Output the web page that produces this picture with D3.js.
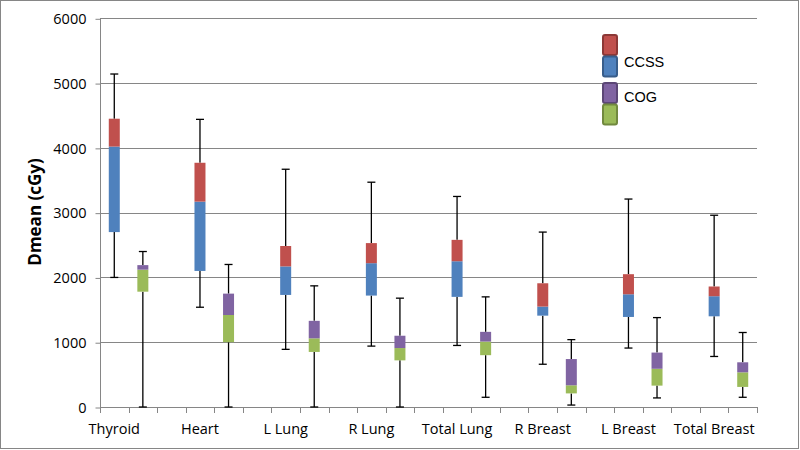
<!DOCTYPE html>
<html><head><meta charset="utf-8">
<script src="https://cdn.jsdelivr.net/npm/d3@7"></script>
<style>body{margin:0;background:#fff}svg{display:block}</style>
</head><body><svg id="c" width="800" height="450"></svg>
<script>
const organs = ["Thyroid","Heart","L Lung","R Lung","Total Lung","R Breast","L Breast","Total Breast"];
const yTicks = [0,1000,2000,3000,4000,5000,6000];
// CCSS
const ccssMin = [2000,1540,890,940,950,660,910,780];
const ccssQ1  = [2700,2100,1730,1720,1700,1410,1390,1400];
const ccssMed = [4020,3170,2170,2220,2250,1550,1740,1710];
const ccssQ3  = [4450,3770,2485,2530,2580,1910,2050,1860];
const ccssMax = [5140,4440,3670,3470,3250,2700,3210,2960];
// COG
const cogMin = [0,0,0,0,150,30,140,150];
const cogQ1  = [1780,1000,850,720,800,210,330,310];
const cogMed = [2120,1420,1060,910,1010,335,590,535];
const cogQ3  = [2190,1750,1330,1100,1160,740,840,690];
const cogMax = [2400,2200,1870,1680,1700,1040,1380,1150];

const colors = {ccssLow:"#4F81BD", ccssHigh:"#C0504D", cogLow:"#9BBB59", cogHigh:"#8064A2"};
const strokes = {ccssLow:"#385D8A", ccssHigh:"#8C3836", cogLow:"#71893F", cogHigh:"#5C4776"};

const svg = d3.select("#c");
svg.append("rect").attr("x",0.5).attr("y",0.5).attr("width",798).attr("height",448)
  .attr("fill","#fff").attr("stroke","#868686");

const slots = d3.range(23).map(String);
const x = d3.scaleBand().domain(slots).range([100,757]).padding(0);
const y = d3.scaleLinear().domain([0,6000]).range([407,18.3]);
const font = "'Open Sans', sans-serif";

// gridlines
svg.append("g").selectAll("line").data(yTicks.filter(d=>d>0)).join("line")
  .attr("x1",100).attr("x2",757).attr("y1",d=>Math.round(y(d))+0.5).attr("y2",d=>Math.round(y(d))+0.5)
  .attr("stroke","#868686").attr("stroke-width",1);

// y axis
const ya = svg.append("g").attr("transform","translate(100.5,0.5)")
  .call(d3.axisLeft(y).tickValues(yTicks).tickSize(5).tickPadding(9).tickFormat(d3.format("d")));
ya.select(".domain").attr("stroke","#868686").attr("d","M0,"+Math.round(y(6000))+"V"+Math.round(y(0)));
ya.selectAll(".tick line").attr("stroke","#868686");
ya.selectAll("text").attr("font-family",font).attr("font-size",14.5).attr("fill","#000");

// x axis
const xg = svg.append("g");
xg.append("line").attr("x1",100).attr("x2",757).attr("y1",407.5).attr("y2",407.5).attr("stroke","#868686");
const bounds = slots.map(s=>x(s)).concat([x.range()[1]]);
xg.selectAll("line.t").data(bounds).join("line").attr("class","t")
  .attr("x1",d=>Math.round(d)+0.5).attr("x2",d=>Math.round(d)+0.5).attr("y1",407).attr("y2",413)
  .attr("stroke","#868686");
xg.selectAll("text").data(organs).join("text")
  .attr("x",(d,i)=>x(String(i*3))+x.bandwidth()/2).attr("y",434)
  .attr("text-anchor","middle").attr("font-family",font).attr("font-size",14.5).attr("fill","#000")
  .text(d=>d);

// y title
svg.append("text").attr("transform","translate(41,212) rotate(-90)")
  .attr("text-anchor","middle").attr("font-family",font).attr("font-weight","bold")
  .attr("font-size",17).attr("fill","#000").text("Dmean (cGy)");

const bw = 11, cap = 4;
function drawBox(slotIdx, mn, q1, md, q3, mx, lowC, highC){
  const cx = x(String(slotIdx)) + x.bandwidth()/2;
  const g = svg.append("g");
  g.append("line").attr("x1",cx).attr("x2",cx).attr("y1",y(q3)).attr("y2",y(mx)).attr("stroke","#000").attr("stroke-width",1.3);
  g.append("line").attr("x1",cx).attr("x2",cx).attr("y1",y(q1)).attr("y2",y(mn)).attr("stroke","#000").attr("stroke-width",1.3);
  g.append("line").attr("x1",cx-cap).attr("x2",cx+cap).attr("y1",y(mx)).attr("y2",y(mx)).attr("stroke","#000").attr("stroke-width",1.3);
  g.append("line").attr("x1",cx-cap).attr("x2",cx+cap).attr("y1",y(mn)).attr("y2",y(mn)).attr("stroke","#000").attr("stroke-width",1.3);
  g.append("rect").attr("x",cx-bw/2).attr("width",bw).attr("y",y(md)).attr("height",y(q1)-y(md)).attr("fill",lowC);
  g.append("rect").attr("x",cx-bw/2).attr("width",bw).attr("y",y(q3)).attr("height",y(md)-y(q3)).attr("fill",highC);
}
organs.forEach((o,i)=>{
  drawBox(i*3, ccssMin[i], ccssQ1[i], ccssMed[i], ccssQ3[i], ccssMax[i], colors.ccssLow, colors.ccssHigh);
  drawBox(i*3+1, cogMin[i], cogQ1[i], cogMed[i], cogQ3[i], cogMax[i], colors.cogLow, colors.cogHigh);
});

// legend
const leg = svg.append("g");
const legItems = [
  {y:35, c:colors.ccssHigh, s:strokes.ccssHigh},
  {y:56.5, c:colors.ccssLow, s:strokes.ccssLow},
  {y:83, c:colors.cogHigh, s:strokes.cogHigh},
  {y:104.5, c:colors.cogLow, s:strokes.cogLow}
];
leg.selectAll("rect").data(legItems).join("rect")
  .attr("x",603).attr("y",d=>d.y).attr("width",14).attr("height",20).attr("rx",2)
  .attr("fill",d=>d.c).attr("stroke",d=>d.s).attr("stroke-width",2);
leg.selectAll("text").data(["CCSS","COG"]).join("text")
  .attr("x",624).attr("y",(d,i)=>[67,102][i])
  .attr("font-family","'Liberation Sans', Arial, sans-serif").attr("font-size",14.5).attr("fill","#000")
  .text(d=>d);
</script></body></html>
